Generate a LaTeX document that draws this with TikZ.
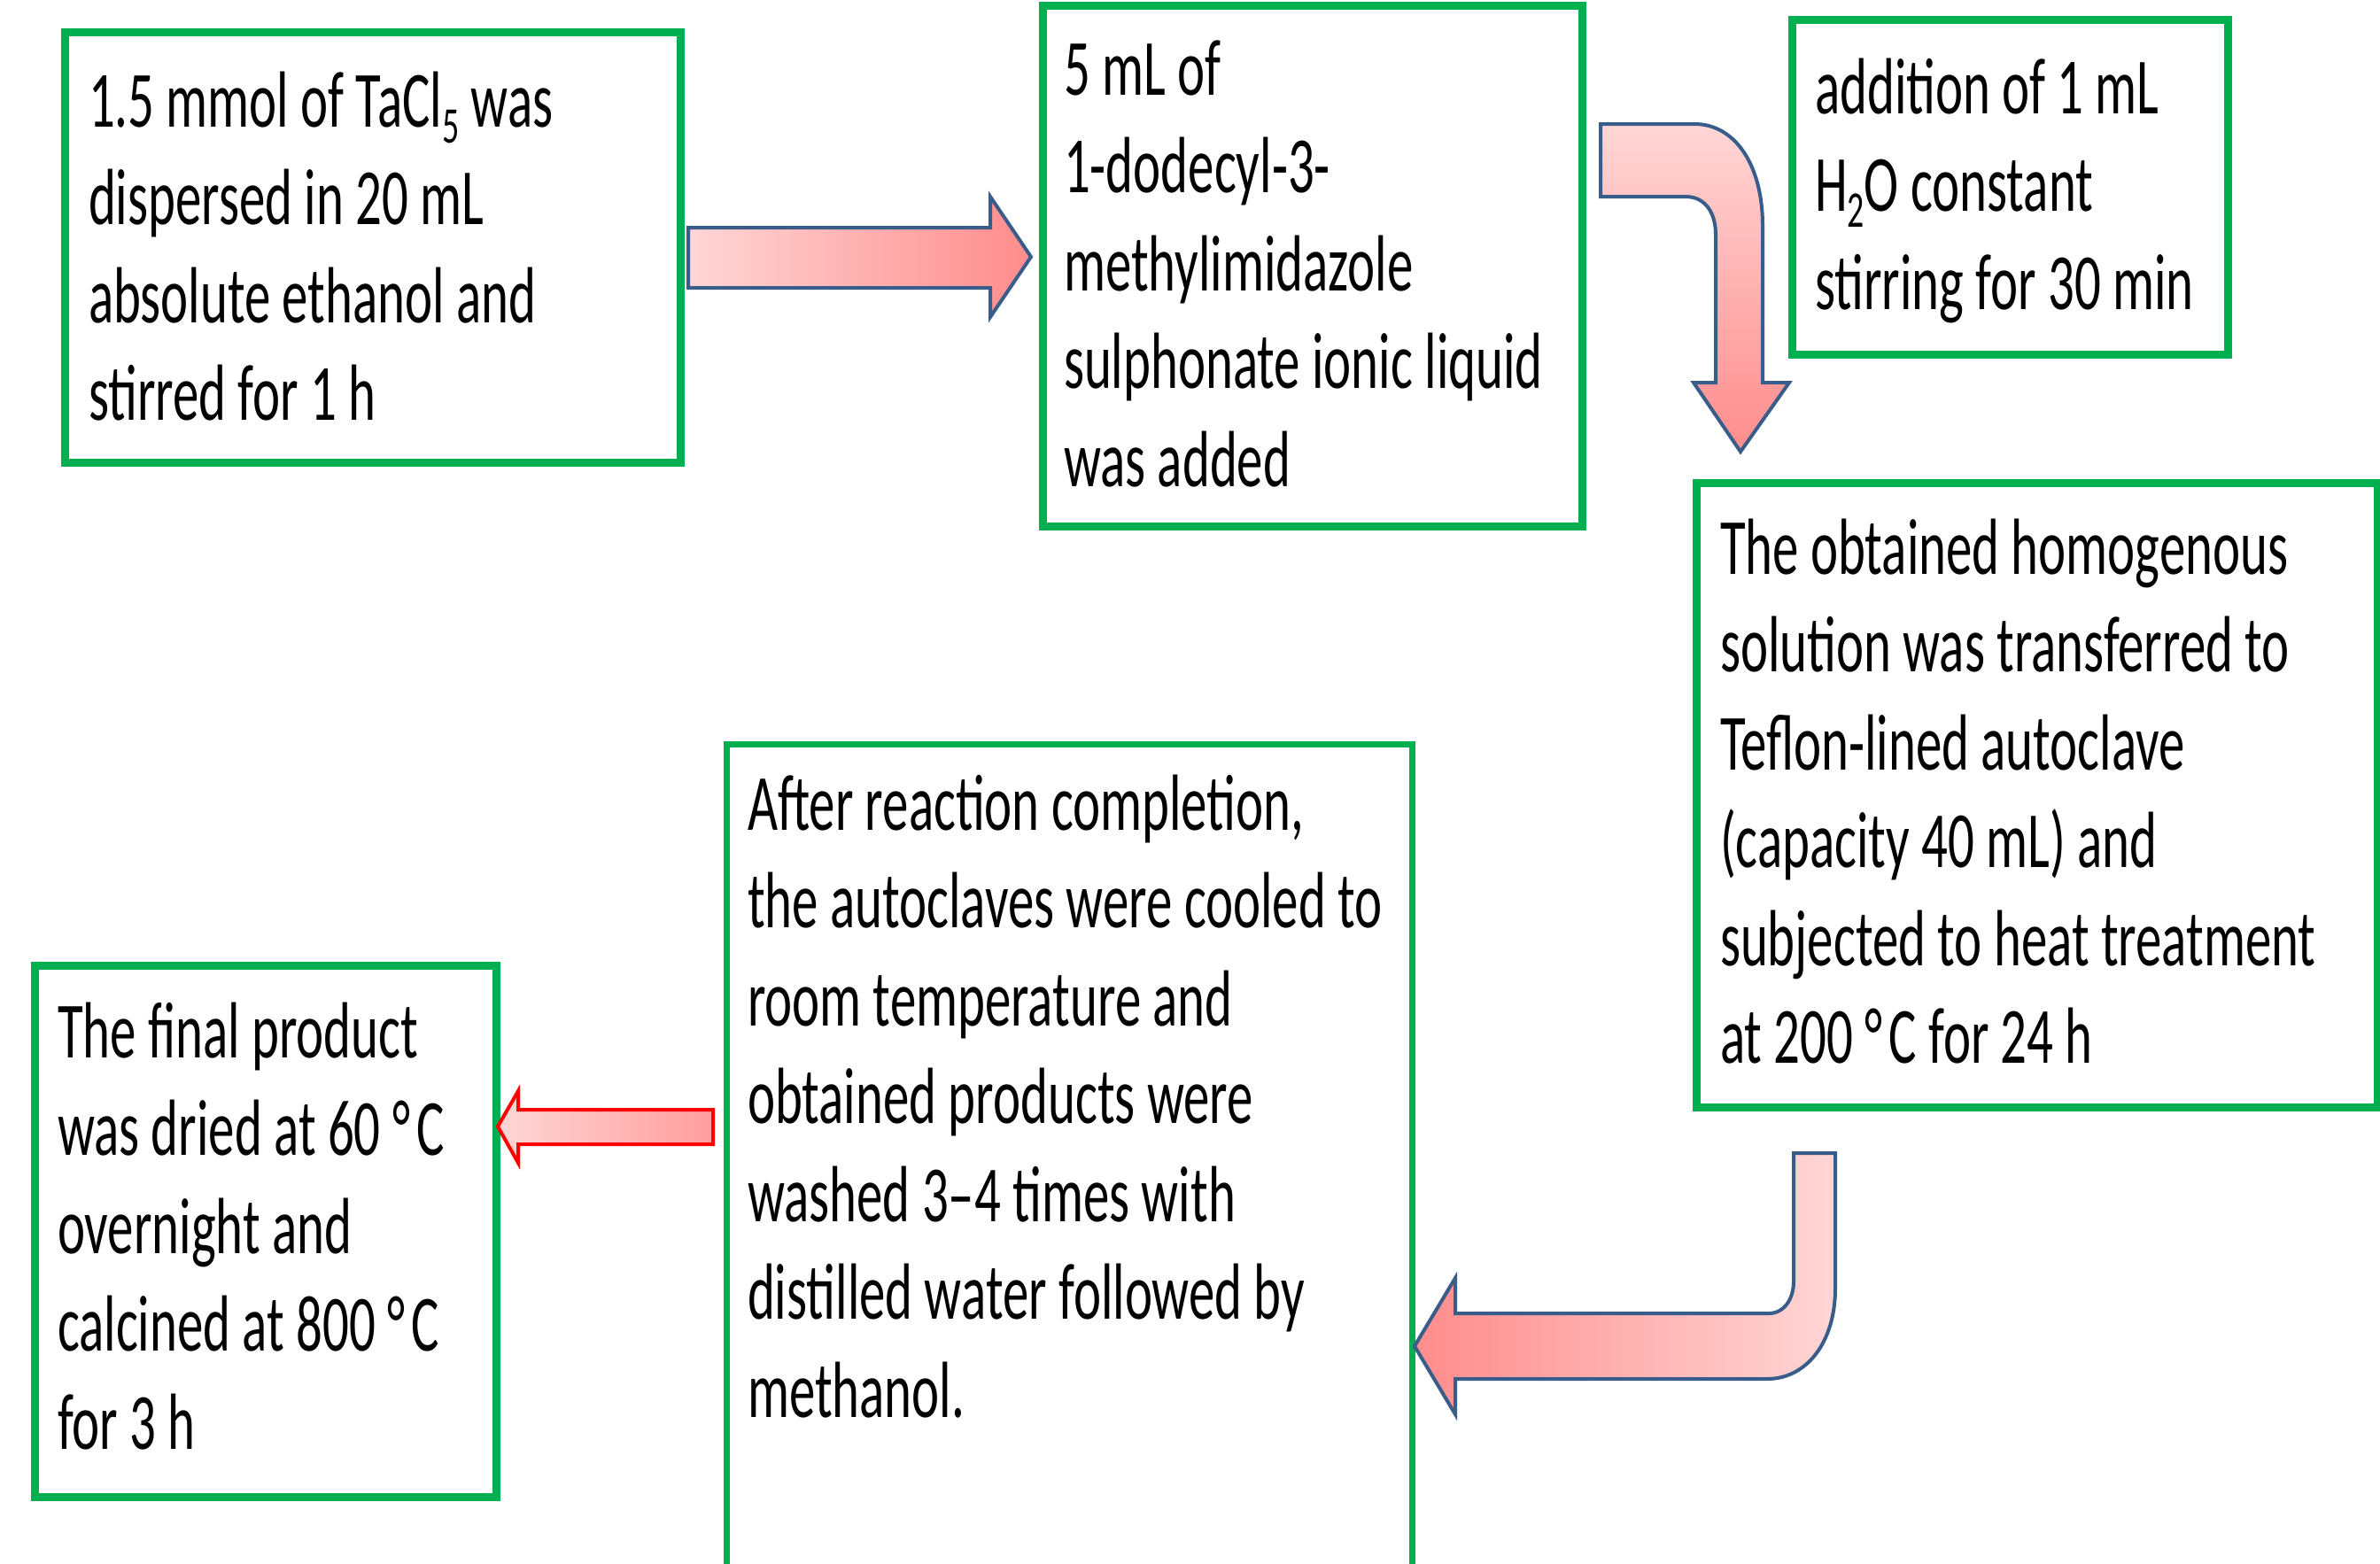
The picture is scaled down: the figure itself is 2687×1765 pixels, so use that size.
\documentclass[tikz,border=0pt]{standalone}
\usepackage{fontspec}
\newfontfamily\boxfont[FakeStretch=0.654]{Carlito}
\definecolor{boxgreen}{HTML}{00B050}
\definecolor{alight}{HTML}{FFD6D6}
\definecolor{adark}{HTML}{FF8C8C}
\definecolor{arrowblue}{HTML}{385D8A}
\newcommand\firstline{\rule{0pt}{90pt}}
\newcommand\lowsub[1]{\raisebox{-0.2em}{\fontsize{58}{58}\selectfont #1}}
\newcommand\degC{°\kern0.08em C}
\tikzset{
  box/.style={draw=boxgreen, line width=9pt, inner sep=0pt, outer sep=0pt, anchor=north west},
  txt/.style={anchor=north west, inner sep=0pt, outer sep=0pt, align=left,
    font=\boxfont\fontsize{90}{110.5}\selectfont},
  blockarrow/.style={draw=arrowblue, line width=4pt, line join=miter},
  redarrow/.style={draw=red, line width=4pt, line join=miter},
}
\begin{document}
\begin{tikzpicture}[x=1pt,y=1pt]
\useasboundingbox (0,0) rectangle (2687,-1765);
\clip (0,0) rectangle (2687,-1765);
\fill[white] (0,0) rectangle (2687,-1765);

% boxes
\node[box, minimum width=695pt, minimum height=486pt] (b1) at (73,-36) {};
\node[box, minimum width=609pt, minimum height=588pt] (b2) at (1177,-6) {};
\node[box, minimum width=492pt, minimum height=378pt] (b3) at (2023,-22) {};
\node[box, minimum width=769pt, minimum height=705pt] (b4) at (1915,-545) {};
\node[box, line width=7pt, minimum width=774pt, minimum height=980pt] (b5) at (820,-840) {};
\node[box, minimum width=521pt, minimum height=600pt] (b6) at (39,-1090) {};

% texts
\node[txt] (t1) at (100,-53) {\firstline 1.5 mmol of TaCl\lowsub{5} was\\dispersed in 20 mL\\absolute ethanol and\\stirred for 1 h};
\node[txt] (t2) at (1201,-17) {\firstline 5 mL of\\1-dodecyl-3-\\methylimidazole\\sulphonate ionic liquid\\was added};
\node[txt] (t3) at (2049,-38) {\firstline addition of 1 mL\\H\lowsub{2}O constant\\stirring for 30 min};
\node[txt] (t4) at (1942,-558) {\firstline The obtained homogenous\\solution was transferred to\\Teflon-lined autoclave\\(capacity 40 mL) and\\subjected to heat treatment\\at 200 \degC{} for 24 h};
\node[txt] (t5) at (844,-847) {\firstline After reaction completion,\\the autoclaves were cooled to\\room temperature and\\obtained products were\\washed 3–4 times with\\distilled water followed by\\methanol.};
\node[txt] (t6) at (65,-1104) {\firstline The final product\\was dried at 60 \degC\\overnight and\\calcined at 800 \degC\\for 3 h};

% block arrows
\shade[blockarrow, left color=alight, right color=adark]
  (777,-257) -- (1118,-257) -- (1118,-222) -- (1164,-290) -- (1118,-358)
  -- (1118,-325) -- (777,-325) -- cycle;
\shade[blockarrow, top color=alight, bottom color=adark]
  (1807,-140) -- (1913,-140) .. controls (1958,-140) and (1990,-185) .. (1990,-255)
  -- (1990,-432) -- (2020,-432) -- (1965,-510) -- (1912,-432) -- (1937,-432)
  -- (1937,-265) .. controls (1937,-240) and (1925,-222) .. (1903,-222)
  -- (1807,-222) -- cycle;
\shade[blockarrow, left color=adark, right color=alight]
  (2025,-1302) -- (2072,-1302) -- (2072,-1455) .. controls (2072,-1515) and (2040,-1557) .. (1995,-1557)
  -- (1643,-1557) -- (1643,-1597) -- (1597,-1520) -- (1643,-1443) -- (1643,-1483)
  -- (1997,-1483) .. controls (2014,-1483) and (2025,-1467) .. (2025,-1447) -- cycle;
\shade[redarrow, left color=alight, right color=adark!85]
  (805,-1253) -- (585,-1253) -- (585,-1232) -- (562,-1272) -- (585,-1313)
  -- (585,-1292) -- (805,-1292) -- cycle;
\end{tikzpicture}
\end{document}
